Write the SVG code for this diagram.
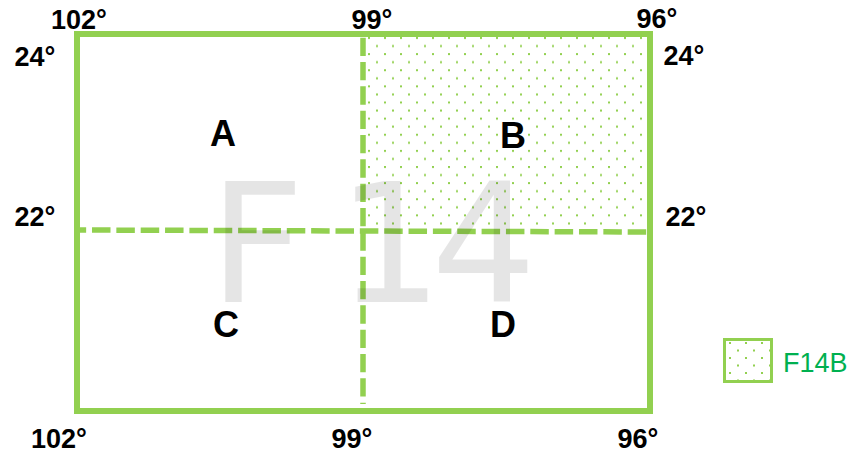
<svg xmlns="http://www.w3.org/2000/svg" width="851" height="454" viewBox="0 0 851 454">
<style>
.deg{font-family:"Liberation Sans",Arial,sans-serif;font-weight:bold;font-size:27px;fill:#000;text-anchor:middle}
.lab{font-family:"Liberation Sans",Arial,sans-serif;font-weight:bold;font-size:36px;fill:#000;text-anchor:middle}
.wm{font-family:"DejaVu Sans",sans-serif;font-size:166px;fill:#000;fill-opacity:0.1}
.leg{font-family:"Liberation Sans",Arial,sans-serif;font-size:27px;fill:#00B050}
.dash{stroke:#92D050;stroke-width:5.5;fill:none}
</style>
<defs>
<pattern id="dots" patternUnits="userSpaceOnUse" x="368" y="37" width="16" height="16.125">
<rect x="0" y="0" width="2" height="2" fill="#92D050"/>
<rect x="8" y="8.06" width="2" height="2" fill="#92D050"/>
</pattern>
<pattern id="dotsLeg" patternUnits="userSpaceOnUse" x="729" y="342" width="16" height="15">
<rect x="0" y="0" width="2" height="2" fill="#92D050"/>
<rect x="8" y="7.5" width="2" height="2" fill="#92D050"/>
</pattern>
</defs>
<g id="regionB-fill">
<rect x="366" y="37" width="281" height="191" fill="url(#dots)"/>
</g>
<g id="frame">
<rect x="77" y="34" width="573" height="377" fill="none" stroke="#92D050" stroke-width="6"/>
</g>
<g id="connectors">
<line class="dash" x1="363" y1="37.7" x2="363" y2="404" stroke-dasharray="18.3 6.03"/>
<line class="dash" x1="80" y1="230" x2="647" y2="232" stroke-dasharray="18.5 5.85" stroke-dashoffset="12.35"/>
</g>
<g id="watermark">
<text class="wm" y="302"><tspan x="209">F</tspan><tspan x="337">1</tspan><tspan x="431">4</tspan></text>
</g>
<g id="labels">
<text id="A" class="lab" x="223" y="146">A</text>
<text id="B" class="lab" x="513" y="148">B</text>
<text id="C" class="lab" x="226" y="337">C</text>
<text id="D" class="lab" x="503" y="337">D</text>
</g>
<g id="degrees">
<text class="deg" x="79" y="29">102°</text>
<text class="deg" x="372" y="29">99°</text>
<text class="deg" x="657" y="28">96°</text>
<text class="deg" x="35" y="66">24°</text>
<text class="deg" x="684" y="65">24°</text>
<text class="deg" x="35" y="226">22°</text>
<text class="deg" x="686" y="226">22°</text>
<text class="deg" x="59" y="448">102°</text>
<text class="deg" x="352" y="448">99°</text>
<text class="deg" x="638" y="448">96°</text>
</g>
<g id="legend">
<rect x="724.5" y="339.5" width="47" height="42" fill="url(#dotsLeg)" stroke="#92D050" stroke-width="3"/>
<text class="leg" x="783" y="372">F14B</text>
</g>
</svg>
